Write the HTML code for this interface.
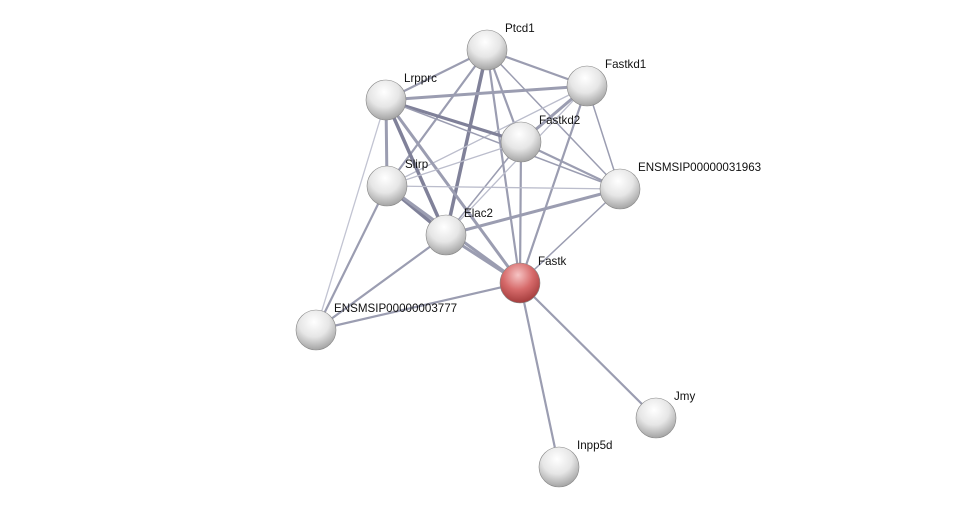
<!DOCTYPE html>
<html><head><meta charset="utf-8"><style>
html,body{margin:0;padding:0;background:#fff;width:976px;height:512px;overflow:hidden}
text{font-family:"Liberation Sans",Arial,sans-serif;font-size:11.6px;fill:#111}
</style></head><body>
<svg width="976" height="512" viewBox="0 0 976 512" xmlns="http://www.w3.org/2000/svg">
<defs>
<radialGradient id="g" cx="0.45" cy="0.3" r="0.75">
<stop offset="0" stop-color="#ffffff"/><stop offset="0.5" stop-color="#e6e6e6"/><stop offset="1" stop-color="#9a9a9a"/>
</radialGradient>
<radialGradient id="r" cx="0.45" cy="0.3" r="0.75">
<stop offset="0" stop-color="#f6c4c4"/><stop offset="0.5" stop-color="#d66a6a"/><stop offset="1" stop-color="#9c3535"/>
</radialGradient>
</defs>
<g stroke-linecap="round">
<g stroke="#8a8ca4" stroke-width="2.2" opacity="0.85">
<line x1="487" y1="50" x2="587" y2="86"/>
<line x1="487" y1="50" x2="386" y2="100"/>
<line x1="487" y1="50" x2="521" y2="142"/>
<line x1="487" y1="50" x2="387" y2="186"/>
<line x1="487" y1="50" x2="446" y2="235" stroke-width="3.5" stroke="#6a6c88"/>
<line x1="487" y1="50" x2="520" y2="283"/>
<line x1="487" y1="50" x2="620" y2="189" stroke-width="1.5"/>
<line x1="587" y1="86" x2="386" y2="100" stroke-width="3"/>
<line x1="587" y1="86" x2="521" y2="142" stroke-width="3"/>
<line x1="587" y1="86" x2="387" y2="186" stroke-width="1.3" stroke="#b0b2c4"/>
<line x1="587" y1="86" x2="446" y2="235" stroke-width="1.3" stroke="#b0b2c4"/>
<line x1="587" y1="86" x2="520" y2="283"/>
<line x1="587" y1="86" x2="620" y2="189" stroke-width="1.5"/>
<line x1="386" y1="100" x2="521" y2="142" stroke-width="3.2" stroke="#6a6c88"/>
<line x1="386" y1="100" x2="387" y2="186" stroke-width="3"/>
<line x1="386" y1="100" x2="446" y2="235" stroke-width="3.5" stroke="#6a6c88"/>
<line x1="386" y1="100" x2="520" y2="283" stroke-width="3"/>
<line x1="386" y1="100" x2="620" y2="189" stroke-width="1.5"/>
<line x1="386" y1="100" x2="316" y2="330" stroke-width="1.3" stroke="#b8bacb"/>
<line x1="521" y1="142" x2="387" y2="186" stroke-width="1.3" stroke="#b0b2c4"/>
<line x1="521" y1="142" x2="446" y2="235" stroke-width="1.5"/>
<line x1="521" y1="142" x2="520" y2="283"/>
<line x1="521" y1="142" x2="620" y2="189"/>
<line x1="387" y1="186" x2="446" y2="235" stroke-width="3.5" stroke="#6a6c88"/>
<line x1="387" y1="186" x2="520" y2="283" stroke-width="3"/>
<line x1="387" y1="186" x2="620" y2="189" stroke-width="1.3" stroke="#b0b2c4"/>
<line x1="387" y1="186" x2="316" y2="330"/>
<line x1="446" y1="235" x2="520" y2="283" stroke-width="3"/>
<line x1="446" y1="235" x2="620" y2="189" stroke-width="3"/>
<line x1="446" y1="235" x2="316" y2="330"/>
<line x1="520" y1="283" x2="620" y2="189" stroke-width="1.5"/>
<line x1="520" y1="283" x2="316" y2="330"/>
<line x1="520" y1="283" x2="656" y2="418"/>
<line x1="520" y1="283" x2="559" y2="467"/>
</g>
</g>
<g stroke="#888" stroke-width="0.6">
<circle cx="487" cy="50" r="20" fill="url(#g)"/>
<circle cx="587" cy="86" r="20" fill="url(#g)"/>
<circle cx="386" cy="100" r="20" fill="url(#g)"/>
<circle cx="521" cy="142" r="20" fill="url(#g)"/>
<circle cx="387" cy="186" r="20" fill="url(#g)"/>
<circle cx="620" cy="189" r="20" fill="url(#g)"/>
<circle cx="446" cy="235" r="20" fill="url(#g)"/>
<circle cx="520" cy="283" r="20" fill="url(#r)"/>
<circle cx="316" cy="330" r="20" fill="url(#g)"/>
<circle cx="656" cy="418" r="20" fill="url(#g)"/>
<circle cx="559" cy="467" r="20" fill="url(#g)"/>
</g>
<text x="505" y="32">Ptcd1</text>
<text x="605" y="68">Fastkd1</text>
<text x="404" y="82">Lrpprc</text>
<text x="539" y="124">Fastkd2</text>
<text x="405" y="168">Slirp</text>
<text x="638" y="171">ENSMSIP00000031963</text>
<text x="464" y="217">Elac2</text>
<text x="538" y="265">Fastk</text>
<text x="334" y="312">ENSMSIP00000003777</text>
<text x="674" y="400">Jmy</text>
<text x="577" y="449">Inpp5d</text>
</svg>
</body></html>
